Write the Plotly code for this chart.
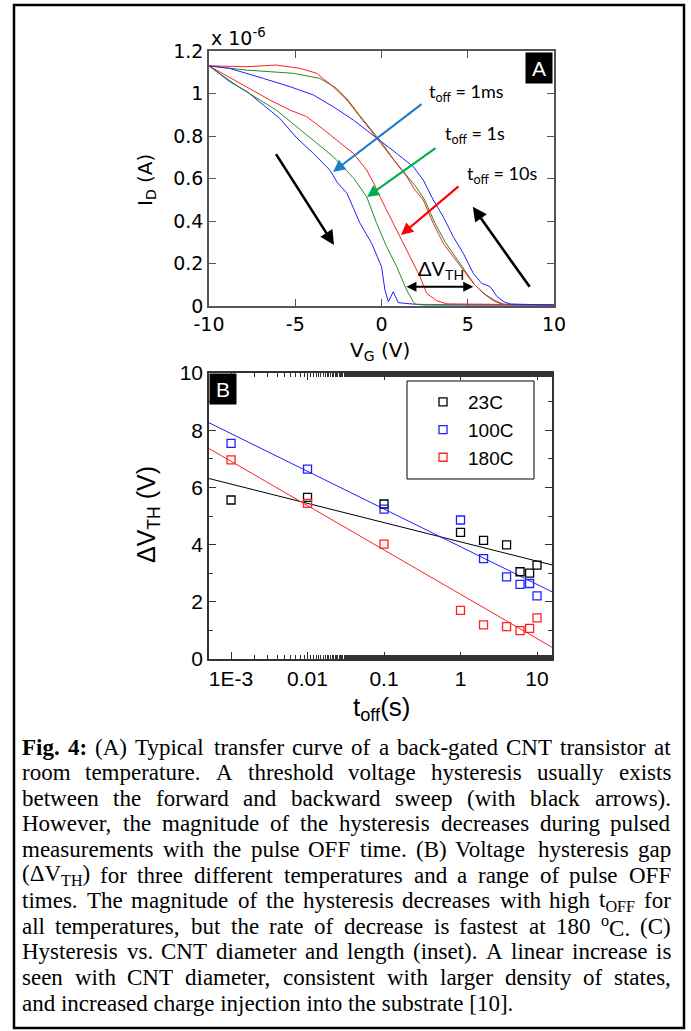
import re
import plotly.graph_objects as go

W, H = 691, 1031
def px(x): return x / W
def py(y): return 1 - y / H

# ---------------- Panel A data (I_D in units of 1e-6 A) ----------------
bf_v = [-10, -8.8, -7.8, -6.85, -5.9, -4.9, -3.95, -3.0, -2.55, -2.0, -1.25, -0.57, 0.0, 0.2, 0.4, 0.68, 0.97, 1.4, 1.8, 2.1, 2.5, 10]
bf_i = [1.13, 1.056, 1.009, 0.946, 0.883, 0.79, 0.718, 0.64, 0.58, 0.53, 0.39, 0.295, 0.185, 0.075, 0.02, 0.067, 0.016, 0.012, 0.009, 0.005, 0.005, 0.004]
gf_v = [-10, -8.3, -6.1, -4.9, -3.76, -2.8, -1.6, -0.86, -0.28, 0.3, 0.88, 1.46, 1.84, 2.0, 3.9, 10]
gf_i = [1.13, 1.032, 0.922, 0.844, 0.766, 0.703, 0.60, 0.514, 0.389, 0.279, 0.185, 0.075, 0.02, 0.008, 0.006, 0.005]
rf_v = [-10, -7.8, -6.46, -5.3, -4.34, -3.57, -2.6, -1.63, -0.86, -0.4, -0.09, 0.49, 1.07, 1.65, 2.23, 2.62, 3.2, 3.8, 10]
rf_i = [1.13, 1.032, 0.969, 0.922, 0.891, 0.844, 0.781, 0.718, 0.640, 0.57, 0.514, 0.42, 0.326, 0.232, 0.138, 0.06, 0.025, 0.01, 0.005]
rb_v = [-10, -7.8, -6.1, -4.7, -3.76, -2.8, -2.0, -1.25, -0.67, -0.09, 0.68, 1.46, 1.9, 2.42, 3.0, 3.58, 4.16, 4.74, 5.32, 5.9, 6.48, 7.0, 10]
rb_i = [1.13, 1.126, 1.134, 1.118, 1.095, 1.032, 0.969, 0.891, 0.828, 0.766, 0.687, 0.609, 0.55, 0.499, 0.389, 0.295, 0.232, 0.169, 0.107, 0.06, 0.025, 0.008, 0.005]
gb_v = [-10, -7.8, -5.1, -3.57, -2.6, -2.0, -1.25, -0.6, 0.0, 0.7, 1.5, 2.0, 2.5, 3.1, 3.7, 4.3, 4.9, 5.4, 6.0, 6.6, 7.1, 10]
gb_i = [1.13, 1.11, 1.095, 1.071, 1.024, 0.975, 0.895, 0.83, 0.77, 0.69, 0.61, 0.56, 0.50, 0.39, 0.30, 0.23, 0.16, 0.10, 0.055, 0.025, 0.008, 0.005]
bb_v = [-10, -8.8, -6.85, -5.3, -3.95, -2.8, -1.63, -0.86, -0.09, 0.88, 1.84, 2.42, 3.0, 3.58, 4.16, 4.74, 5.32, 5.8, 6.3, 6.7, 7.1, 7.45, 10]
bb_i = [1.13, 1.118, 1.071, 1.032, 0.993, 0.938, 0.875, 0.828, 0.781, 0.718, 0.656, 0.593, 0.499, 0.42, 0.326, 0.248, 0.154, 0.107, 0.091, 0.044, 0.02, 0.009, 0.005]
a_xticks = [-10, -5, 0, 5, 10]
a_xticktext = ["-10", "-5", "0", "5", "10"]

# ---------------- Panel B data ----------------
toff = [0.001, 0.01, 0.1, 1, 2, 4, 6, 8, 10]
dv_23 = [5.56, 5.65, 5.42, 4.43, 4.15, 3.99, 3.05, 3.0, 3.28]
dv_100 = [7.54, 6.64, 5.24, 4.86, 3.51, 2.87, 2.61, 2.64, 2.21]
dv_180 = [6.96, 5.44, 4.02, 1.70, 1.19, 1.13, 0.99, 1.07, 1.44]
fit_t = [5.15e-4, 15.7]
fit_23 = [6.31, 3.29]
fit_100 = [8.26, 2.35]
fit_180 = [7.36, 0.41]
b_xtickvals = [0.001, 0.01, 0.1, 1, 10]
b_xticktext = ["1E-3", "0.01", "0.1", "1", "10"]

caption = [
    "<b>Fig.</b> <b>4:</b> (A) Typical transfer curve of a back-gated CNT transistor at",
    "room temperature. A threshold voltage hysteresis usually exists",
    "between the forward and backward sweep (with black arrows).",
    "However, the magnitude of the hysteresis decreases during pulsed",
    "measurements with the pulse OFF time. (B) Voltage hysteresis gap",
    "(ΔV<sub>TH</sub>) for three different temperatures and a range of pulse OFF",
    "times. The magnitude of the hysteresis decreases with high t<sub>OFF</sub> for",
    "all temperatures, but the rate of decrease is fastest at 180 <sup>o</sup>C. (C)",
    "Hysteresis vs. CNT diameter and length (inset). A linear increase is",
    "seen with CNT diameter, consistent with larger density of states,",
    "and increased charge injection into the substrate [10].",
]

# approximate Times (Liberation Serif) advance widths, per 1000 em
TW = dict(zip("abcdefghijklmnopqrstuvwxyz",
              [444, 500, 444, 500, 444, 333, 500, 500, 278, 278, 500, 278, 778, 500, 500, 500, 500, 333, 389, 278,
               500, 500, 722, 500, 500, 444]))
TW.update(zip("ABCDEFGHIJKLMNOPQRSTUVWXYZ",
              [722, 667, 667, 722, 611, 556, 722, 722, 333, 389, 722, 611, 889, 722, 722, 556, 722, 667, 556, 611,
               722, 722, 944, 722, 722, 611]))
TW.update({c: 500 for c in "0123456789"})
TW.update({" ": 250, ".": 250, ",": 250, ":": 278, ";": 278, "(": 333, ")": 333, "[": 333, "]": 333,
           "-": 333, "Δ": 612})
TWB = dict(TW)
TWB.update({"F": 611, "i": 278, "g": 500, ":": 333})

def word_width(word, size):
    w = 0.0
    scale, bold = 1.0, False
    for tok in re.split(r"(<[^>]+>)", word):
        if tok.startswith("<"):
            if tok in ("<sub>", "<sup>"): scale = 0.7
            elif tok in ("</sub>", "</sup>"): scale = 1.0
            elif tok == "<b>": bold = True
            elif tok == "</b>": bold = False
            continue
        tab = TWB if bold else TW
        for ch in tok:
            w += tab.get(ch, 500) * scale
    return 1.004 * w * size / 1000.0

BLUE, GREEN, RED = "#2020ff", "#209020", "#ff2020"
fig = go.Figure()
for v, i, c in [(bf_v, bf_i, BLUE), (gf_v, gf_i, GREEN), (rf_v, rf_i, RED),
                (gb_v, gb_i, GREEN), (rb_v, rb_i, RED), (bb_v, bb_i, BLUE)]:
    fig.add_trace(go.Scatter(x=v, y=i, mode="lines", line=dict(color=c, width=1),
                             showlegend=False, xaxis="x", yaxis="y"))

for t_fit, f, c in [(fit_t, fit_23, "black"), (fit_t, fit_100, "#2020ff"), (fit_t, fit_180, "#ff2020")]:
    fig.add_trace(go.Scatter(x=t_fit, y=f, mode="lines", line=dict(color=c, width=1),
                             showlegend=False, xaxis="x2", yaxis="y2"))
for name, d, c in [("23C", dv_23, "black"), ("100C", dv_100, "#2020ff"), ("180C", dv_180, "#ff2020")]:
    fig.add_trace(go.Scatter(x=toff, y=d, mode="markers", name=name,
                             marker=dict(symbol="square-open", size=8, color=c, line=dict(width=1.3, color=c)),
                             xaxis="x2", yaxis="y2"))

AF = "DejaVu Sans"
BF = "Liberation Sans"
ax_line = "#555555"
fig.update_layout(
    width=W, height=H, margin=dict(l=0, r=0, t=0, b=0, autoexpand=False),
    paper_bgcolor="white", plot_bgcolor="white",
    xaxis=dict(domain=[px(209), px(554)], range=[-10, 10], tickvals=a_xticks, ticktext=a_xticktext,
               ticks="inside", ticklen=7, automargin=False,
               tickcolor=ax_line, mirror="ticks", showline=True, linecolor=ax_line, linewidth=1.5,
               showgrid=False, zeroline=False, anchor="y", tickfont=dict(family=AF, size=19, color="black")),
    yaxis=dict(domain=[py(306), py(51)], range=[0, 1.2], dtick=0.2, ticks="inside", ticklen=7, automargin=False,
               tickcolor=ax_line, mirror="ticks", showline=True, linecolor=ax_line, linewidth=1.5,
               showgrid=False, zeroline=False, anchor="x", tickfont=dict(family=AF, size=19, color="black")),
    xaxis2=dict(domain=[px(209), px(552)], type="log", range=[-3.288, 1.196], tickvals=b_xtickvals,
                ticktext=b_xticktext, ticks="inside", ticklen=7, tickcolor="#333", mirror="ticks", automargin=False,
                showline=True, linecolor="#333", linewidth=1.5, showgrid=False, zeroline=False, anchor="y2",
                minor=dict(ticks="inside", ticklen=4, tickcolor="#333", showgrid=False),
                tickfont=dict(family=BF, size=21, color="black")),
    yaxis2=dict(domain=[py(659), py(373)], range=[0, 10], dtick=2, ticks="inside", ticklen=7, tickcolor="#333",
                mirror="ticks", showline=True, linecolor="#333", linewidth=1.5, showgrid=False, zeroline=False,
                anchor="x2", automargin=False,
                minor=dict(ticks="inside", ticklen=4, dtick=1, tickcolor="#333", showgrid=False),
                tickfont=dict(family=BF, size=21, color="black")),
    legend=dict(x=px(418), y=py(383), xanchor="left", yanchor="top", bgcolor="rgba(0,0,0,0)",
                borderwidth=0, font=dict(family=BF, size=19, color="black"),
                itemwidth=40, tracegroupgap=4),
    showlegend=True,
)

ann = []
def note(x, y, text, font, xa="center", ya="middle", **kw):
    d = dict(x=px(x), y=py(y), xref="paper", yref="paper", xanchor=xa, yanchor=ya, text=text,
             showarrow=False, font=font)
    d.update(kw)
    ann.append(d)

# panel A text
note(209, 37, "x 10<sup>-6</sup>", dict(family=AF, size=19, color="black"), xa="left")
note(146, 180, "I<sub>D</sub> (A)", dict(family=AF, size=20, color="black"), textangle=-90)
note(380, 351, "V<sub>G</sub> (V)", dict(family=AF, size=20, color="black"))
note(553, 52, "A", dict(family=BF, size=21, color="white"), xa="right", ya="top",
     bgcolor="black", width=24, height=28)
CF = "Lato"
for txt, x0, y0 in [("t<sub>off</sub> = 1ms", 427, 92), ("t<sub>off</sub> = 1s", 443, 135),
                    ("t<sub>off</sub> = 10s", 465, 174)]:
    note(x0, y0, txt, dict(family=CF, size=18, color="black"), xa="left")
note(441, 270, "ΔV<sub>TH</sub>", dict(family=CF, size=20, color="black"))
# arrows (tail -> head in data coords)
for (tx, ty, hx, hy, c, w) in [(2.41, 0.955, -2.81, 0.631, "#1f7cc8", 2.2),
                               (3.22, 0.748, -0.84, 0.513, "#00b050", 2.2),
                               (4.55, 0.569, 1.13, 0.334, "#ff0000", 2.2),
                               (-6.17, 0.722, -2.75, 0.287, "black", 2.6),
                               (8.65, 0.083, 5.29, 0.467, "black", 2.6)]:
    ann.append(dict(x=hx, y=hy, ax=tx, ay=ty, xref="x", yref="y", axref="x", ayref="y", text="",
                    showarrow=True, arrowhead=2, arrowsize=1.1, arrowwidth=w, arrowcolor=c))
ann.append(dict(x=5.32, y=0.091, ax=1.36, ay=0.091, xref="x", yref="y", axref="x", ayref="y", text="",
                showarrow=True, arrowhead=2, startarrowhead=2, arrowside="end+start", arrowsize=1,
                arrowwidth=2, arrowcolor="black"))
# panel B text
note(209, 373, "B", dict(family=BF, size=21, color="white"), xa="left", ya="top",
     bgcolor="black", width=24, height=28)
note(148, 515, "ΔV<sub>TH</sub> (V)", dict(family=BF, size=25, color="black"), textangle=-90)
note(381, 708, "t<sub>off</sub>(s)", dict(family=BF, size=26, color="black"))

# caption, justified between two margins
CAP_SIZE = 23
CAP_L, CAP_R = 22, 671
cfont = dict(family="Liberation Serif", size=CAP_SIZE, color="black")
for k, line in enumerate(caption):
    yc = 747 + k * 25.6
    words = line.split(" ")
    if k == len(caption) - 1:
        note(CAP_L, yc, line, cfont, xa="left", borderpad=0, borderwidth=0)
        continue
    widths = [word_width(w_, CAP_SIZE) for w_ in words]
    gap = (CAP_R - CAP_L - sum(widths)) / (len(words) - 1)
    xpos = CAP_L
    for j, w_ in enumerate(words):
        if j == len(words) - 1:
            note(CAP_R, yc, w_, cfont, xa="right", borderpad=0, borderwidth=0)
        else:
            note(xpos, yc, w_, cfont, xa="left", borderpad=0, borderwidth=0)
        xpos += widths[j] + gap
fig.update_layout(annotations=ann)
fig.add_shape(type="rect", xref="paper", yref="paper", x0=px(14), x1=px(684), y0=py(1028), y1=py(5),
              line=dict(color="black", width=2.5))
fig.add_shape(type="rect", xref="paper", yref="paper", x0=px(407), x1=px(534), y0=py(479), y1=py(381),
              line=dict(color="black", width=1))
fig.write_html("out.html")
